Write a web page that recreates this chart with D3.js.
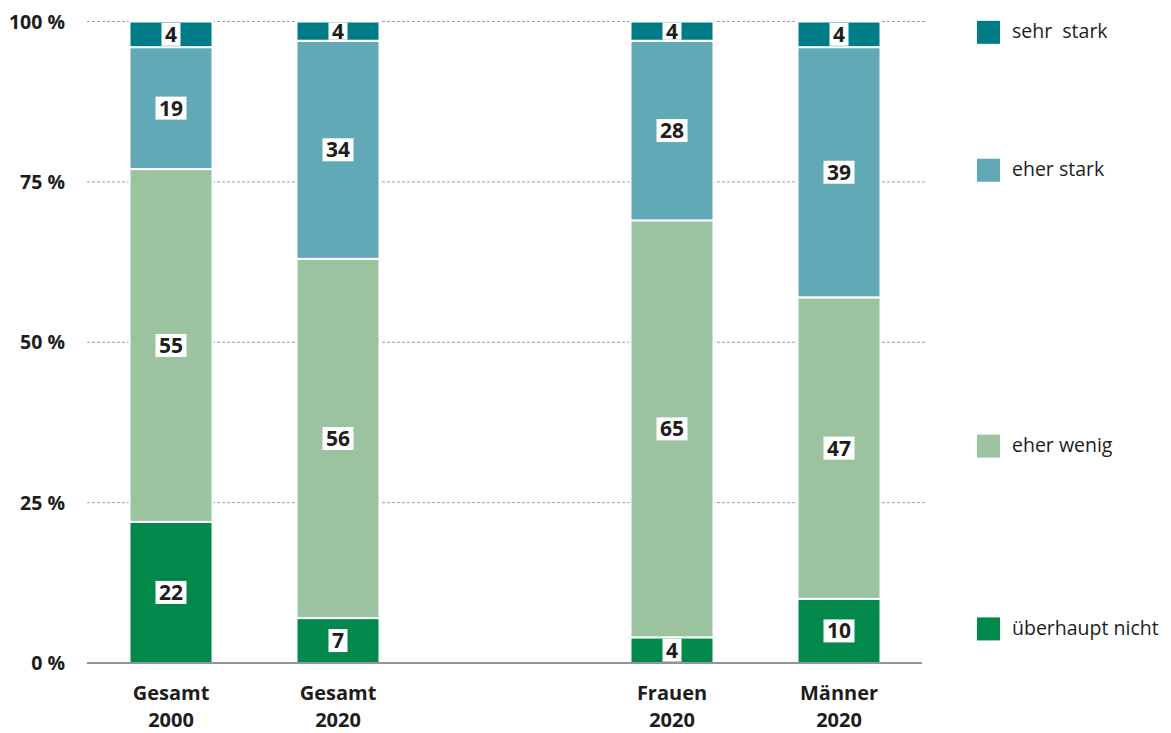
<!DOCTYPE html>
<html>
<head>
<meta charset="utf-8">
<script src="https://cdn.jsdelivr.net/npm/d3@7"></script>
<style>
  html, body { margin: 0; padding: 0; background: #fff; }
  svg { display: block; font-family: "Open Sans", "Noto Sans", sans-serif; }
</style>
</head>
<body>
<svg id="chart" width="1171" height="733"></svg>
<script>
// ---- data ----
const categories = ["Gesamt\n2000", "Gesamt\n2020", "Frauen\n2020", "Männer\n2020"];
const slots = ["Gesamt\n2000", "Gesamt\n2020", "__gap__", "Frauen\n2020", "Männer\n2020"];
const seriesKeys = ["überhaupt nicht", "eher wenig", "eher stark", "sehr stark"];
const legendLabels = ["überhaupt nicht", "eher wenig", "eher stark", "sehr  stark"];
const ueberhauptNicht = [22, 7, 4, 10];
const eherWenig = [55, 56, 65, 47];
const eherStark = [19, 34, 28, 39];
const sehrStark = [4, 4, 4, 4];
const yTicks = [0, 25, 50, 75, 100];
const yTickLabels = ["0 %", "25 %", "50 %", "75 %", "100 %"];

const colors = {
  "überhaupt nicht": "#00894b",
  "eher wenig": "#9bc3a0",
  "eher stark": "#62a9b7",
  "sehr stark": "#007c89"
};

// ---- build table ----
const seriesValues = [ueberhauptNicht, eherWenig, eherStark, sehrStark];
const rows = categories.map((c, i) => {
  const r = { cat: c };
  seriesKeys.forEach((k, j) => r[k] = seriesValues[j][i]);
  return r;
});

const svg = d3.select("#chart");
const y = d3.scaleLinear().domain([0, 100]).range([663, 21.5]);
const x = d3.scalePoint().domain(slots).range([171, 839]);
const barW = 83;
const gridX0 = 87, gridX1 = 925;

// gridlines
svg.append("g").selectAll("line")
  .data(yTicks.filter(t => t > 0))
  .join("line")
  .attr("x1", gridX0).attr("x2", gridX1)
  .attr("y1", d => y(d)).attr("y2", d => y(d))
  .attr("stroke", "#9a9fa3").attr("stroke-width", 1)
  .attr("stroke-dasharray", "3,2");

// y tick labels
svg.append("g").selectAll("text")
  .data(yTicks)
  .join("text")
  .attr("x", 65).attr("y", d => y(d))
  .attr("dy", "0.37em")
  .attr("text-anchor", "end")
  .attr("font-weight", 700).attr("font-size", 19.5)
  .attr("fill", "#1d1d1b")
  .text((d, i) => yTickLabels[i]);

// stacks
const stack = d3.stack().keys(seriesKeys)(rows);

const layers = svg.append("g").selectAll("g")
  .data(stack)
  .join("g")
  .attr("fill", d => colors[d.key]);

layers.selectAll("rect")
  .data(d => d)
  .join("rect")
  .attr("x", d => x(d.data.cat) - barW / 2)
  .attr("width", barW)
  .attr("y", d => y(Math.min(d[1], 100)))
  .attr("height", d => y(d[0]) - y(Math.min(d[1], 100)))
  .attr("stroke", "#fff").attr("stroke-width", 2);

// zero line
svg.append("line")
  .attr("x1", gridX0).attr("x2", 922)
  .attr("y1", y(0)).attr("y2", y(0))
  .attr("stroke", "#8c969b").attr("stroke-width", 2.2);

// value labels
const labelG = svg.append("g");
stack.forEach(layer => {
  layer.forEach(d => {
    const top = y(Math.min(d[1], 100)), bot = y(d[0]);
    const cy = (top + bot) / 2;
    const cx = x(d.data.cat);
    const val = d[1] - d[0];
    const g = labelG.append("g");
    const t = g.append("text")
      .attr("x", cx).attr("y", cy).attr("dy", "0.36em")
      .attr("text-anchor", "middle")
      .attr("font-weight", 700).attr("font-size", 21)
      .attr("fill", "#1d1d1b")
      .text(val);
    const w = t.node().getComputedTextLength() + 7;
    const h = Math.min(23, (bot - top) - 2);
    g.insert("rect", "text")
      .attr("x", cx - w / 2).attr("width", w)
      .attr("y", cy - h / 2).attr("height", h)
      .attr("fill", "#fff");
  });
});

// x labels
const xl = svg.append("g").selectAll("text")
  .data(categories)
  .join("text")
  .attr("x", d => x(d))
  .attr("y", 700)
  .attr("text-anchor", "middle")
  .attr("font-weight", 700).attr("font-size", 20)
  .attr("fill", "#1d1d1b");
xl.selectAll("tspan")
  .data(d => d.split("\n"))
  .join("tspan")
  .attr("x", function () { return d3.select(this.parentNode).attr("x"); })
  .attr("dy", (d, i) => i === 0 ? 0 : 27)
  .text(d => d);

// legend: aligned with the segments of the last bar
const lastStack = stack.map(layer => layer[layer.length - 1]);
const leg = svg.append("g").selectAll("g")
  .data(seriesKeys)
  .join("g")
  .attr("transform", (d, i) => {
    const s = lastStack[i];
    const cy = (y(Math.min(s[1], 100)) + y(s[0])) / 2 - 2;
    return `translate(977,${cy})`;
  });
leg.append("rect")
  .attr("x", 0).attr("y", -11.5).attr("width", 23).attr("height", 23)
  .attr("fill", d => colors[d]);
leg.append("text")
  .attr("x", 35).attr("y", 0).attr("dy", "0.3em")
  .attr("font-size", 19.5).attr("fill", "#1d1d1b")
  .style("white-space", "pre")
  .text((d, i) => legendLabels[i]);
</script>
</body>
</html>
